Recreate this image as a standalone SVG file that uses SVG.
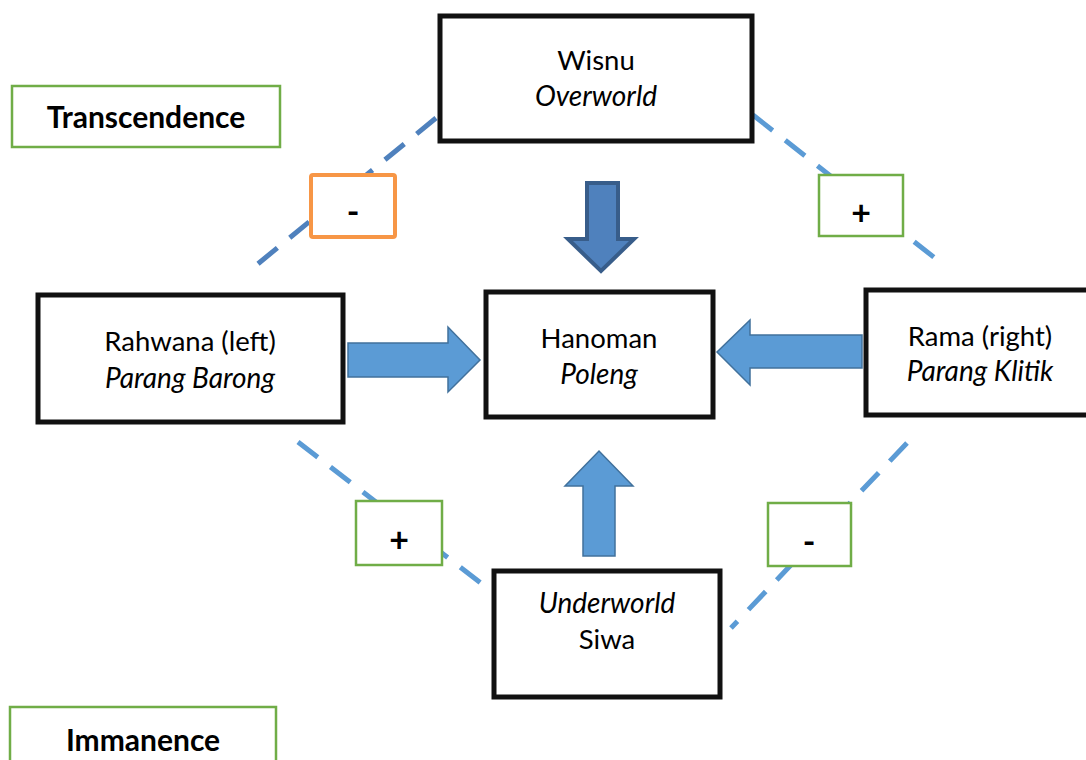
<svg xmlns="http://www.w3.org/2000/svg" width="1086" height="760" viewBox="0 0 1086 760">
<style>
  .node { fill: #fff; stroke: #111; stroke-width: 5; }
  .lbl { fill: #fff; stroke: #70AD47; stroke-width: 2.5; }
  .neg { fill: #fff; stroke: #F79646; stroke-width: 4; }
  text { font-family: Lato, "Open Sans", "Liberation Sans", sans-serif; font-size: 27.5px; fill: #000; text-anchor: middle; }
  .it { font-style: italic; font-size: 28px; }
  .b { font-weight: bold; font-size: 30px; }
  .sign { font-weight: bold; font-size: 34px; }
  .dash { stroke: #5B9BD5; stroke-width: 5; stroke-dasharray: 25 16; fill: none; }
  .dash.dark { stroke: #4F81BD; }
  .arr { fill: #5B9BD5; stroke: #41719C; stroke-width: 1.5; stroke-linejoin: miter; }
  .arr.dark { fill: #4F81BD; stroke: #385D8A; stroke-width: 4; }
</style>
<rect width="1086" height="760" fill="#fff"/>
<g id="connectors">
  <line class="dash dark" x1="436" y1="118" x2="254" y2="267"/>
  <line class="dash" x1="753" y1="115" x2="940" y2="262"/>
  <line class="dash" x1="298" y1="442" x2="486" y2="587"/>
  <line class="dash" x1="907" y1="443" x2="731" y2="628"/>
  <polygon class="arr dark" points="587,183 618,183 618,239 634,239 601,271 568,239 587,239"/>
  <polygon class="arr" points="348,343 448,343 448,327 480,360 448,392 448,377 348,377"/>
  <polygon class="arr" points="862,335 750,335 750,320 717,352 750,385 750,368 862,368"/>
  <polygon class="arr" points="583,556 615,556 615,486 633,486 599,451 565,486 583,486"/>
</g>
<g id="transcendence">
  <rect class="lbl" x="12" y="86" width="268" height="61"/>
  <text class="b" x="146" y="128">Transcendence</text>
</g>
<g id="immanence">
  <rect class="lbl" x="10" y="707" width="266" height="70"/>
  <text class="b" x="143" y="751">Immanence</text>
</g>
<g id="wisnu">
  <rect class="node" x="440" y="16" width="312" height="125"/>
  <text x="596" y="70">Wisnu</text>
  <text class="it" x="596" y="106">Overworld</text>
</g>
<g id="minus-top">
  <rect class="neg" x="311" y="175" width="84" height="62" rx="2"/>
  <text class="sign" x="353" y="224">-</text>
</g>
<g id="plus-top">
  <rect class="lbl" x="819" y="175" width="84" height="61"/>
  <text class="sign" x="861" y="225">+</text>
</g>
<g id="rahwana">
  <rect class="node" x="38" y="295" width="305" height="127"/>
  <text x="190" y="351">Rahwana (left)</text>
  <text class="it" x="190" y="388">Parang Barong</text>
</g>
<g id="hanoman">
  <rect class="node" x="486" y="292" width="227" height="125"/>
  <text x="599" y="348">Hanoman</text>
  <text class="it" x="599" y="384">Poleng</text>
</g>
<g id="rama">
  <rect class="node" x="866" y="290" width="230" height="125"/>
  <text x="980" y="346">Rama (right)</text>
  <text class="it" x="980" y="381">Parang Klitik</text>
</g>
<g id="plus-bottom">
  <rect class="lbl" x="356" y="501" width="86" height="64"/>
  <text class="sign" x="399" y="552">+</text>
</g>
<g id="minus-bottom">
  <rect class="lbl" x="768" y="503" width="83" height="63"/>
  <text class="sign" x="809" y="554">-</text>
</g>
<g id="siwa">
  <rect class="node" x="494" y="571" width="226" height="126"/>
  <text class="it" x="607" y="613">Underworld</text>
  <text x="607" y="649">Siwa</text>
</g>
</svg>
